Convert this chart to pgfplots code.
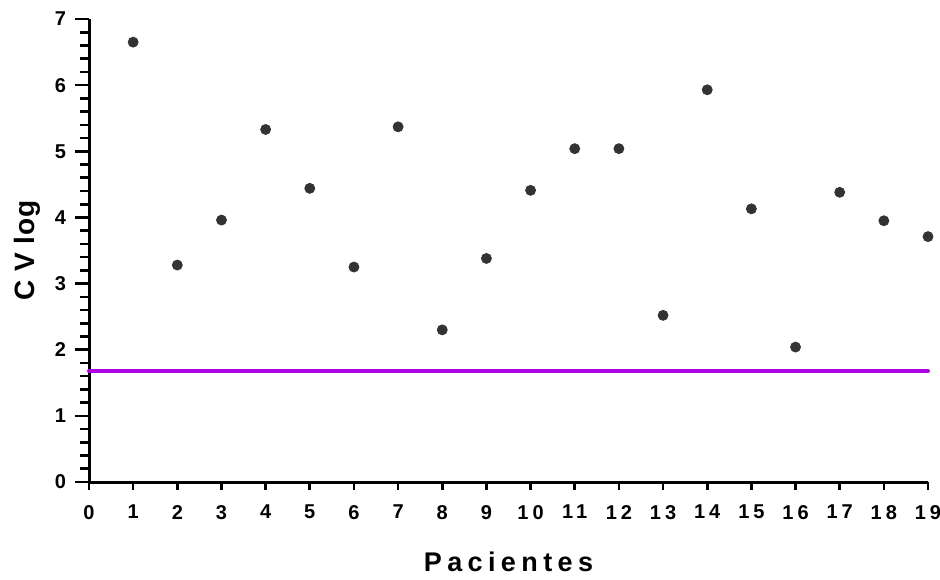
\documentclass[border=0pt]{standalone}
\usepackage{fontspec}
\setmainfont{Liberation Sans}
\newfontfamily\spaced[LetterSpace=20]{Liberation Sans}
\newfontfamily\yspaced[LetterSpace=4]{Liberation Sans}
\usepackage{pgfplots}
\pgfplotsset{compat=1.18}
\definecolor{ptcol}{HTML}{333333}
\definecolor{mag}{rgb}{0.68,0.0,0.90}
\begin{document}
\begin{tikzpicture}
\useasboundingbox (0,0) rectangle (470pt,289.5pt);
\begin{axis}[
  at={(44.5pt,48.5pt)}, anchor=south west,
  scale only axis, width=419.5pt, height=231.5pt,
  xmin=0, xmax=19, ymin=0, ymax=7,
  axis lines=left,
  axis line style={line width=1.5pt, -},
  tick style={line width=1.3pt, black},
  x tick style={draw=none},
  tick align=outside,
  xtick={0,...,19},
  xticklabels={0,1,2,3,4,5,6,7,8,9,10,11,12,13,14,15,16,17,18,19},
  ytick={0,...,7},
  yticklabels={0,1,2,3,4,5,6,7},
  minor y tick num=4,
  major tick length=7pt,
  minor tick length=4.5pt,
  xticklabel style={font=\spaced\bfseries\fontsize{10}{12}\selectfont, anchor=north, yshift=-1pt},
  yticklabel style={font=\bfseries\fontsize{10}{12}\selectfont, anchor=east, xshift=-1pt},
  xlabel={Pacientes},
  ylabel={C V log},
  xlabel style={font=\spaced\bfseries\fontsize{13.5}{16}\selectfont, at={(axis description cs:0.5,-0.173)}, anchor=center},
  ylabel style={font=\yspaced\bfseries\fontsize{14}{16}\selectfont, at={(axis description cs:-0.073,0.5)}, anchor=center},
  clip=false,
]
\addplot[draw=mag, line width=2pt, line cap=round] coordinates {(0,1.68) (19,1.68)};
\addplot[only marks, mark=*, mark size=2.5pt, mark options={fill=ptcol, draw=ptcol}] coordinates {
(1,6.65) (2,3.28) (3,3.96) (4,5.33) (5,4.44) (6,3.25) (7,5.37) (8,2.30) (9,3.38)
(10,4.41) (11,5.04) (12,5.04) (13,2.52) (14,5.93) (15,4.13) (16,2.04) (17,4.38) (18,3.95) (19,3.71)
};
\end{axis}
\begin{axis}[
  at={(44.5pt,48.5pt)}, anchor=south west,
  scale only axis, width=419.5pt, height=231.5pt,
  xmin=0, xmax=19, ymin=0, ymax=7,
  axis lines=left,
  axis line style={draw=none},
  tick style={line width=1.3pt, black},
  tick align=outside,
  xtick={0,...,19},
  xticklabels={},
  ytick=\empty,
  major tick length=4pt,
]
\end{axis}
\end{tikzpicture}
\end{document}
